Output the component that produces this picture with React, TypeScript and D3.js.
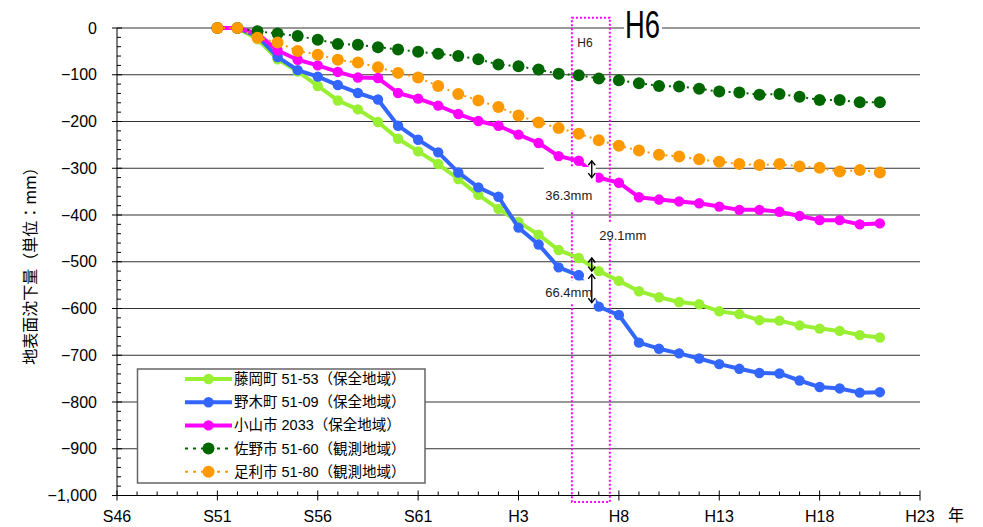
import React from "react";
import * as d3 from "d3";

const YEARS = d3.range(1976, 2010);
const FUJIOKA = [0, 0, -24, -67, -93, -124, -155, -174, -201, -237, -264, -291, -323, -357, -387, -415, -442, -475, -492, -520, -541, -563, -576, -586, -591, -606, -612, -625, -626, -636, -643, -648, -657, -662];
const NOGI = [0, 0, -18, -62, -90, -104, -122, -139, -153, -209, -239, -266, -309, -341, -361, -427, -463, -512, -529, -596, -614, -673, -686, -696, -707, -719, -729, -738, -739, -754, -768, -771, -780, -779];
const OYAMA = [0, 0, -12, -48, -68, -80, -94, -106, -107, -139, -151, -166, -184, -199, -209, -228, -246, -274, -284, -320, -331, -362, -367, -371, -375, -382, -389, -389, -393, -402, -411, -411, -420, -418];
const SANO = [0, 0, -7, -12, -17, -25, -34, -36, -41, -46, -51, -55, -60, -67, -78, -82, -89, -98, -101, -108, -112, -118, -124, -125, -130, -136, -138, -143, -141, -147, -154, -154, -159, -159];
const ASHIKAGA = [0, 0, -21, -31, -49, -57, -68, -74, -84, -96, -106, -124, -141, -155, -169, -187, -202, -214, -226, -240, -252, -262, -271, -275, -281, -286, -291, -293, -291, -296, -299, -307, -304, -309];

const SERIES_NAMES = ["藤岡町 51-53（保全地域）", "野木町 51-09（保全地域）", "小山市 2033（保全地域）", "佐野市 51-60（観測地域）", "足利市 51-80（観測地域）"];
const SERIES_VALUES = [FUJIOKA, NOGI, OYAMA, SANO, ASHIKAGA];
const SERIES_COLORS = ["#99F033", "#3366FF", "#FF00FF", "#006600", "#FF9900"];
const SERIES_DOTTED = [false, false, false, true, true];

const X_TICK_YEARS = [1971, 1976, 1981, 1986, 1991, 1996, 2001, 2006, 2011];
const X_TICK_LABELS = ["S46", "S51", "S56", "S61", "H3", "H8", "H13", "H18", "H23"];
const Y_TICKS = d3.range(0, -1001, -100);

const ANN_YEAR = 1994;
const ANNOTATIONS = [
  { series: 2, text: "36.3mm" },
  { series: 0, text: "29.1mm" },
  { series: 1, text: "66.4mm" },
];

const FONT = "'Liberation Sans', Arial, 'Noto Sans CJK JP', sans-serif";

export default function App() {
  const x = d3.scaleLinear().domain([1971, 2011]).range([117, 920]);
  const y = d3.scaleLinear().domain([0, -1000]).range([28, 495.5]);
  const [x0, x1] = x.range();
  const [yTop, yBot] = y.range();

  const line = d3
    .line<number>()
    .x((_, i) => x(YEARS[i]))
    .y((v) => y(v));

  const minorY = d3.range(0, -1001, -20).filter((v) => v % 100 !== 0);
  const minorX = d3.range(1971, 2012).filter((v) => (v - 1971) % 5 !== 0);

  const idx = YEARS.indexOf(ANN_YEAR);
  const arrowX = (x(ANN_YEAR) + x(ANN_YEAR + 1)) / 2 + 3;

  const arrow = (xa: number, ya: number, yb: number, key: string) => (
    <g key={key} stroke="#000" strokeWidth={1.4} fill="none">
      <line x1={xa} x2={xa} y1={ya} y2={yb} />
      <polyline points={`${xa - 3.5},${ya + 4.5} ${xa},${ya} ${xa + 3.5},${ya + 4.5}`} />
      <polyline points={`${xa - 3.5},${yb - 4.5} ${xa},${yb} ${xa + 3.5},${yb - 4.5}`} />
    </g>
  );

  const a0 = SERIES_VALUES[ANNOTATIONS[0].series];
  const a1 = SERIES_VALUES[ANNOTATIONS[1].series];
  const a2 = SERIES_VALUES[ANNOTATIONS[2].series];

  const boxL = x(1993.66);
  const boxR = x(1995.55);

  return (
    <svg width={983} height={527} style={{ position: "absolute", left: 0, top: 0, background: "#fff" }} fontFamily={FONT}>
      <rect x={0} y={0} width={983} height={527} fill="#fff" />
      {/* gridlines */}
      {Y_TICKS.filter((v) => v !== -1000).map((v) => (
        <line key={"g" + v} x1={x0} x2={x1} y1={y(v)} y2={y(v)} stroke="#333" strokeWidth={1} />
      ))}
      {/* y axis */}
      <line x1={x0} x2={x0} y1={yTop} y2={yBot} stroke="#000" strokeWidth={1} />
      {Y_TICKS.map((v) => (
        <g key={"yt" + v}>
          <line x1={x0 - 5} x2={x0 + 5} y1={y(v)} y2={y(v)} stroke="#000" />
          <text x={97} y={y(v)} dy="0.35em" textAnchor="end" fontSize={16} fill="#000">
            {d3.format(",")(v).replace("-", "−").replace("−", "−")}
          </text>
        </g>
      ))}
      {minorY.map((v) => (
        <line key={"ym" + v} x1={x0} x2={x0 + 4} y1={y(v)} y2={y(v)} stroke="#000" />
      ))}
      {/* x axis */}
      <line x1={x0} x2={x1} y1={yBot} y2={yBot} stroke="#000" strokeWidth={1} />
      {X_TICK_YEARS.map((yr, i) => (
        <g key={"xt" + yr}>
          <line x1={x(yr)} x2={x(yr)} y1={yBot - 5} y2={yBot + 5} stroke="#000" />
          <text x={x(yr)} y={516.5} dy="0.35em" textAnchor="middle" fontSize={16} fill="#000">
            {X_TICK_LABELS[i]}
          </text>
        </g>
      ))}
      {minorX.map((yr) => (
        <line key={"xm" + yr} x1={x(yr)} x2={x(yr)} y1={yBot - 4} y2={yBot} stroke="#000" />
      ))}
      <text x={956} y={515} dy="0.35em" textAnchor="middle" fontSize={16} fill="#000" fontFamily="'Noto Sans CJK JP', sans-serif">
        年
      </text>
      {/* y title */}
      <text
        transform="translate(30,262) rotate(-90)"
        textAnchor="middle"
        dy="0.35em"
        fontSize={16}
        fill="#000"
        fontFamily="'Noto Sans CJK JP', sans-serif"
      >
        地表面沈下量（単位：mm）
      </text>

      {/* H6 dotted box */}
      <rect x={boxL} y={17.7} width={boxR - boxL} height={502 - 17.7} fill="none" stroke="#FF00FF" strokeWidth={2} strokeDasharray="2,2" />

      {/* series */}
      {SERIES_VALUES.map((vals, s) => (
        <g key={"s" + s}>
          <path
            d={line(vals) || ""}
            fill="none"
            stroke={SERIES_COLORS[s]}
            strokeWidth={SERIES_DOTTED[s] ? 2 : 4}
            strokeDasharray={SERIES_DOTTED[s] ? "2,4" : undefined}
            strokeLinejoin="round"
          />
          {vals.map((v, i) => (
            <circle key={i} cx={x(YEARS[i])} cy={y(v)} r={SERIES_DOTTED[s] ? 6 : 5.2} fill={SERIES_COLORS[s]} />
          ))}
        </g>
      ))}

      {/* annotation label backgrounds */}
      <rect x={arrowX - 48} y={167} width={52} height={43} fill="#fff" />
      <rect x={arrowX + 5} y={222} width={52} height={17} fill="#fff" />
      <rect x={arrowX - 48} y={y(a2[idx]) + 5} width={52} height={y(a2[idx + 1]) - y(a2[idx]) - 8} fill="#fff" />
      <circle cx={x(ANN_YEAR)} cy={y(a2[idx])} r={5.2} fill={SERIES_COLORS[1]} />

      {/* arrows */}
      {arrow(arrowX, y(a0[idx]), y(a0[idx + 1]), "a0")}
      {arrow(arrowX, y(a1[idx]), y(a1[idx + 1]), "a1")}
      {arrow(arrowX, y(a2[idx]) - 1, y(a2[idx + 1]) - 4, "a2")}

      <text x={arrowX - 23} y={195} dy="0.35em" textAnchor="middle" fontSize={13} fill="#222">
        {ANNOTATIONS[0].text}
      </text>
      <text x={arrowX + 31} y={235} dy="0.35em" textAnchor="middle" fontSize={13} fill="#222">
        {ANNOTATIONS[1].text}
      </text>
      <text x={arrowX - 23} y={292} dy="0.35em" textAnchor="middle" fontSize={13} fill="#222">
        {ANNOTATIONS[2].text}
      </text>

      {/* H6 labels */}
      <text x={585} y={43} dy="0.35em" textAnchor="middle" fontSize={12} fill="#222">
        H6
      </text>
      <rect x={624} y={12} width={38} height={26} fill="#fff" />
      <text x={625} y={38} fontSize={38} textLength={35} lengthAdjust="spacingAndGlyphs" fill="#000">
        H6
      </text>

      {/* legend */}
      <rect x={137.5} y={369} width={287.5} height={114} fill="#fff" stroke="#666" strokeWidth={1.5} />
      {SERIES_NAMES.map((name, s) => {
        const ly = 379 + s * 23.2;
        return (
          <g key={"l" + s}>
            <line
              x1={185}
              x2={232}
              y1={ly}
              y2={ly}
              stroke={SERIES_COLORS[s]}
              strokeWidth={SERIES_DOTTED[s] ? 2 : 4}
              strokeDasharray={SERIES_DOTTED[s] ? "3,5" : undefined}
            />
            <circle cx={208.5} cy={ly} r={SERIES_DOTTED[s] ? 6 : 5.2} fill={SERIES_COLORS[s]} />
            <text x={234} y={ly} dy="0.35em" fontSize={14.5} fill="#000" fontFamily="'Liberation Sans', 'Noto Sans CJK JP', sans-serif">
              {name}
            </text>
          </g>
        );
      })}
    </svg>
  );
}
